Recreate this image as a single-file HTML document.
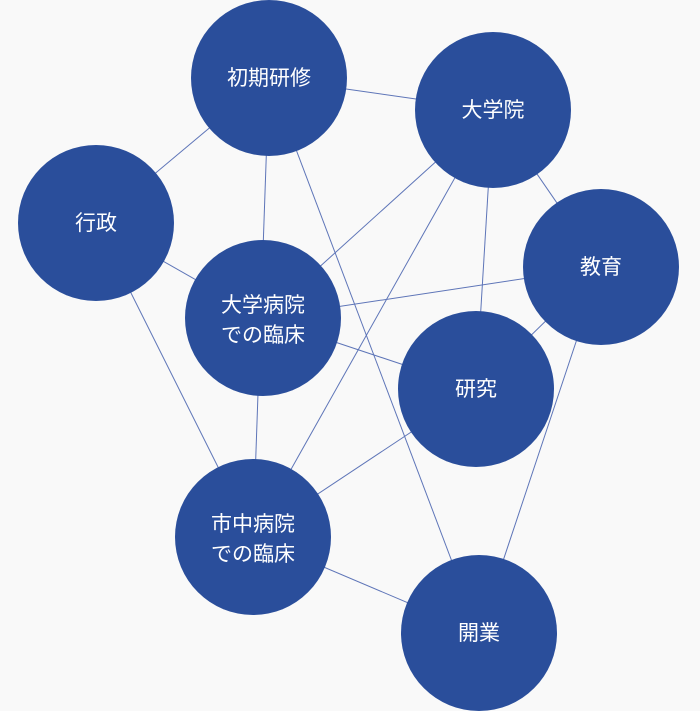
<!DOCTYPE html>
<html><head><meta charset="utf-8"><style>
html,body{margin:0;padding:0;background:#f9f9f9;}
svg{display:block;}
text{font-family:"Liberation Sans","Noto Sans CJK JP",sans-serif;font-size:21px;fill:#fff;text-anchor:middle;}
</style></head><body>
<svg width="700" height="711" viewBox="0 0 700 711">
<rect width="700" height="711" fill="#f9f9f9"/>
<g stroke="#5e75b8" stroke-width="1" fill="none">
<line x1="269" y1="78" x2="493" y2="110"/>
<line x1="269" y1="78" x2="96" y2="223"/>
<line x1="269" y1="78" x2="253" y2="537"/>
<line x1="269" y1="78" x2="479" y2="633"/>
<line x1="493" y1="110" x2="263" y2="318"/>
<line x1="493" y1="110" x2="253" y2="537"/>
<line x1="493" y1="110" x2="476" y2="389"/>
<line x1="493" y1="110" x2="601" y2="267"/>
<line x1="96" y1="223" x2="263" y2="318"/>
<line x1="96" y1="223" x2="253" y2="537"/>
<line x1="601" y1="267" x2="263" y2="318"/>
<line x1="601" y1="267" x2="476" y2="389"/>
<line x1="601" y1="267" x2="479" y2="633"/>
<line x1="263" y1="318" x2="476" y2="389"/>
<line x1="476" y1="389" x2="253" y2="537"/>
<line x1="253" y1="537" x2="479" y2="633"/>
</g>
<g fill="#2a4e9b">
<circle cx="269" cy="78" r="78"/>
<circle cx="493" cy="110" r="78"/>
<circle cx="96" cy="223" r="78"/>
<circle cx="601" cy="267" r="78"/>
<circle cx="263" cy="318" r="78"/>
<circle cx="476" cy="389" r="78"/>
<circle cx="253" cy="537" r="78"/>
<circle cx="479" cy="633" r="78"/>
</g>
<text x="269" y="85">初期研修</text>
<text x="493" y="117">大学院</text>
<text x="96" y="230">行政</text>
<text x="601" y="274">教育</text>
<text x="263" y="312">大学病院</text>
<text x="263" y="342">での臨床</text>
<text x="476" y="396">研究</text>
<text x="253" y="531">市中病院</text>
<text x="253" y="561">での臨床</text>
<text x="479" y="640">開業</text>
</svg>
</body></html>
